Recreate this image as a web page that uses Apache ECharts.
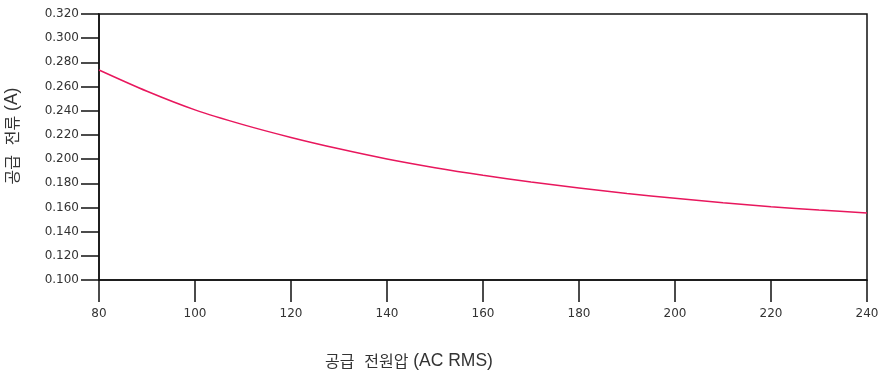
<!DOCTYPE html>
<html>
<head>
<meta charset="utf-8">
<script src="https://cdn.jsdelivr.net/npm/echarts@6/dist/echarts.min.js"></script>
<style>html,body{margin:0;padding:0;background:#fff}#c{width:886px;height:374px}</style>
</head>
<body>
<div id="c"></div>
<script>
const voltage = [80, 90, 100, 110, 120, 130, 140, 150, 160, 170, 180, 190, 200, 210, 220, 230, 240];
const current = [0.2737, 0.2561, 0.2407, 0.2285, 0.2179, 0.2085, 0.2001, 0.1929, 0.1866, 0.1810, 0.1761, 0.1716, 0.1676, 0.1639, 0.1606, 0.1579, 0.1555];
const xTitleKo1 = '공급', xTitleKo2 = '전원압', xTitleEn = '(AC RMS)';
const yTitleKo1 = '공급', yTitleKo2 = '전류', yTitleEn = '(A)';

const chart = echarts.init(document.getElementById('c'));
const axisFont = 'DejaVu Sans';
const nameRich = {
  k: { fontFamily: 'Noto Sans CJK KR', fontSize: 16, color: '#333' }
};
chart.setOption({
  animation: false,
  grid: { left: 99, right: 19, top: 14, bottom: 94, containLabel: false, outerBoundsMode: 'none',
          show: true, borderColor: '#111', borderWidth: 1.5 },
  xAxis: {
    type: 'value', min: 80, max: 240, interval: 20,
    name: `{k|${xTitleKo1}}  {k|${xTitleKo2}} ${xTitleEn}`, nameLocation: 'middle', nameGap: 72,
    nameTextStyle: { fontFamily: 'Liberation Sans', fontSize: 17.5, color: '#333', padding: [0, 148, 0, 0], rich: nameRich },
    axisLine: { show: true, lineStyle: { color: '#111', width: 1.5 } },
    axisTick: { show: true, inside: false, length: 22, lineStyle: { color: '#111', width: 1.5 } },
    axisLabel: { fontFamily: axisFont, fontSize: 12, color: '#333', margin: 28 },
    splitLine: { show: false }
  },
  yAxis: {
    type: 'value', min: 0.1, max: 0.32, interval: 0.02,
    name: `{k|${yTitleKo1}}  {k|${yTitleKo2}} ${yTitleEn}`, nameLocation: 'middle', nameGap: 78, nameRotate: 90,
    nameTextStyle: { fontFamily: 'Liberation Sans', fontSize: 17.5, color: '#333', padding: [0, 0, 0, 22], rich: nameRich },
    axisLine: { show: true, lineStyle: { color: '#111', width: 1.5 } },
    axisTick: { show: true, inside: false, length: 18, lineStyle: { color: '#111', width: 1.5 } },
    axisLabel: { fontFamily: axisFont, fontSize: 12, color: '#333', margin: 20, formatter: v => v.toFixed(3) },
    splitLine: { show: false }
  },
  series: [{
    type: 'line', data: voltage.map((v, i) => [v, current[i]]),
    smooth: 0.3, showSymbol: false,
    lineStyle: { color: '#E8175D', width: 1.5 }
  }]
});
</script>
</body>
</html>
